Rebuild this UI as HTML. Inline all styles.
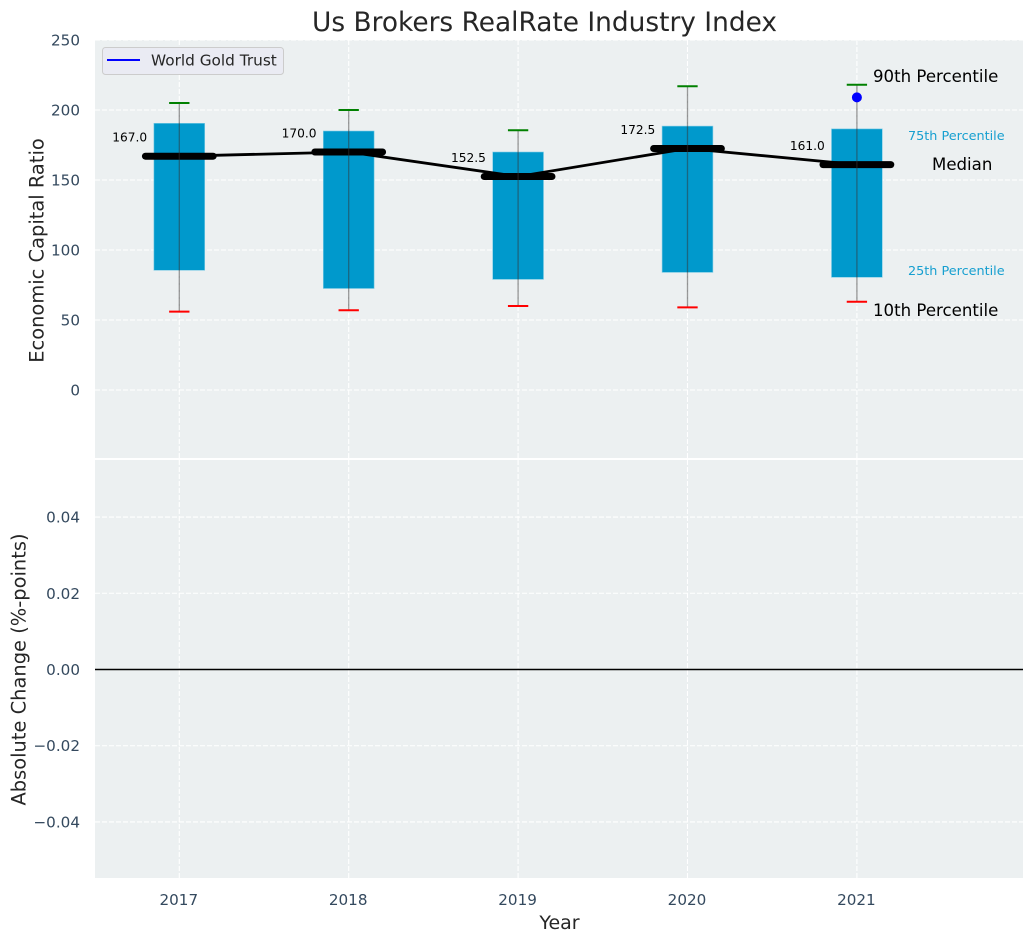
<!DOCTYPE html>
<html>
<head>
<meta charset="utf-8">
<style>
html,body{margin:0;padding:0;background:#fff;}
svg{display:block;font-family:"DejaVu Sans","Liberation Sans",sans-serif;}
</style>
</head>
<body>
<svg id="chart" xmlns="http://www.w3.org/2000/svg" width="1034" height="942" viewBox="0 0 1034 942">
  <text x="544.5" y="31" text-anchor="middle" font-size="26.4" fill="#262626">Us Brokers RealRate Industry Index</text>
  <text transform="translate(43.5,250.5) rotate(-90)" text-anchor="middle" font-size="19.45" fill="#262626">Economic Capital Ratio</text>
  <text transform="translate(25.5,669.5) rotate(-90)" text-anchor="middle" font-size="19.45" fill="#262626">Absolute Change (%-points)</text>
  <text x="559.5" y="929" text-anchor="middle" font-size="19" fill="#262626">Year</text>
</svg>
<script>
var years = [2017, 2018, 2019, 2020, 2021];
var p90 = [205, 200, 185.5, 217, 218];
var p75 = [190.5, 185, 170, 188.5, 186.5];
var medians = [167, 170, 152.5, 172.5, 161];
var p25 = [85.5, 72.5, 79, 84, 80.5];
var p10 = [56, 57, 60, 59, 63];
var goldYears = [2021];
var goldValues = [209];
var topTicks = [0, 50, 100, 150, 200, 250];
var bottomTicks = [-0.04, -0.02, 0, 0.02, 0.04];

var svg = document.getElementById('chart');
var NS = 'http://www.w3.org/2000/svg';
function xAxis(v) { return 179.3 + (v - 2017) * 169.4; }
function xSpan(u) { return u * 169.4; }
function yTop(v) { return 390 - v * 1.4; }
function yBottom(v) { return 669.5 - v * 3812; }
function make(tag, attrs, text) {
  var el = document.createElementNS(NS, tag);
  for (var k in attrs) { el.setAttribute(k, attrs[k]); }
  if (text !== undefined) { el.textContent = text; }
  svg.appendChild(el);
  return el;
}
var el, i;

el = make('rect', {x: 95, y: 40, width: 928, height: 418, fill: '#ecf0f1'});


el = make('rect', {x: 95, y: 460, width: 928, height: 418, fill: '#ecf0f1'});



var gridStyle = {stroke: '#ffffff', 'stroke-width': 1.1, 'stroke-dasharray': '5 2'};
function gridLine(x1, y1, x2, y2) {
  var a = {x1: x1, y1: y1, x2: x2, y2: y2};
  for (var k in gridStyle) { a[k] = gridStyle[k]; }
  return make('line', a);
}

topTicks.forEach(function (t) {
  var e = gridLine(95, yTop(t), 1023, yTop(t));
  
  
  var lab = make('text', {x: 80, y: yTop(t) + 5.5, 'text-anchor': 'end', 'font-size': 15.2, fill: '#34495e'}, String(t));
  
  
});
bottomTicks.forEach(function (t) {
  var e = gridLine(95, yBottom(t), 1023, yBottom(t));
  
  
  var txt = (t < 0 ? '\u2212' : '') + Math.abs(t).toFixed(2);
  var lab = make('text', {x: 80, y: yBottom(t) + 5.5, 'text-anchor': 'end', 'font-size': 15.2, fill: '#34495e'}, txt);
  
  
});
years.forEach(function (y) {
  var e = gridLine(xAxis(y), 40, xAxis(y), 458);
  
  
  e = gridLine(xAxis(y), 460, xAxis(y), 878);
  
  
  var lab = make('text', {x: xAxis(y) - 0.5, y: 905, 'text-anchor': 'middle', 'font-size': 15.2, fill: '#34495e'}, String(y));
  
  
});

el = make('line', {x1: 95, y1: yBottom(0), x2: 1023, y2: yBottom(0), stroke: '#000', 'stroke-width': 1.4});



for (i = 0; i < years.length; i++) {
  var cx = xAxis(years[i]);
  var box = make('rect', {x: cx - xSpan(0.15), y: yTop(p75[i]), width: xSpan(0.30), height: yTop(p25[i]) - yTop(p75[i]), fill: '#0099cc', stroke: '#7fcce5', 'stroke-width': 0.6});
  
  
}

var points = years.map(function (y, j) { return xAxis(y) + ',' + yTop(medians[j]); }).join(' ');
el = make('polyline', {points: points, fill: 'none', stroke: '#000', 'stroke-width': 2.8});



for (i = 0; i < years.length; i++) {
  var c = xAxis(years[i]);
  var m = make('line', {x1: c - xSpan(0.2), y1: yTop(medians[i]), x2: c + xSpan(0.2), y2: yTop(medians[i]), stroke: '#000', 'stroke-width': 7, 'stroke-linecap': 'round'});
  
  
  var w = make('line', {x1: c, y1: yTop(p90[i]), x2: c, y2: yTop(p10[i]), stroke: '#333', 'stroke-opacity': 0.5, 'stroke-width': 1.3});
  
  
  var capHi = make('line', {x1: c - xSpan(0.06), y1: yTop(p90[i]), x2: c + xSpan(0.06), y2: yTop(p90[i]), stroke: '#008000', 'stroke-width': 2});
  
  
  var capLo = make('line', {x1: c - xSpan(0.06), y1: yTop(p10[i]), x2: c + xSpan(0.06), y2: yTop(p10[i]), stroke: '#ff0000', 'stroke-width': 2});
  
  
  var vl = make('text', {x: c - xSpan(0.19), y: yTop(medians[i]) - 14.5, 'text-anchor': 'end', 'font-size': 12.2, fill: '#000'}, medians[i].toFixed(1));
  
  
}

for (i = 0; i < goldYears.length; i++) {
  var dot = make('circle', {cx: xAxis(goldYears[i]), cy: yTop(goldValues[i]), r: 5, fill: '#0000ff'});
  
  
}

el = make('text', {x: 873, y: 82, 'font-size': 16.6, fill: '#000'}, '90th Percentile');


el = make('text', {x: 908, y: 140, 'font-size': 12.8, fill: '#169fd0'}, '75th Percentile');


el = make('text', {x: 932, y: 170, 'font-size': 16.6, fill: '#000'}, 'Median');


el = make('text', {x: 908, y: 275, 'font-size': 12.8, fill: '#169fd0'}, '25th Percentile');


el = make('text', {x: 873, y: 316, 'font-size': 16.6, fill: '#000'}, '10th Percentile');



el = make('rect', {x: 102.5, y: 47.5, width: 181, height: 27, rx: 3, fill: '#eaeaf2', 'fill-opacity': 0.95, stroke: '#cccccc', 'stroke-width': 1});


el = make('line', {x1: 107, y1: 60, x2: 140, y2: 60, stroke: '#0000ff', 'stroke-width': 2});


el = make('text', {x: 151, y: 65.5, 'font-size': 15.3, fill: '#262626'}, 'World Gold Trust');


</script>
</body>
</html>
